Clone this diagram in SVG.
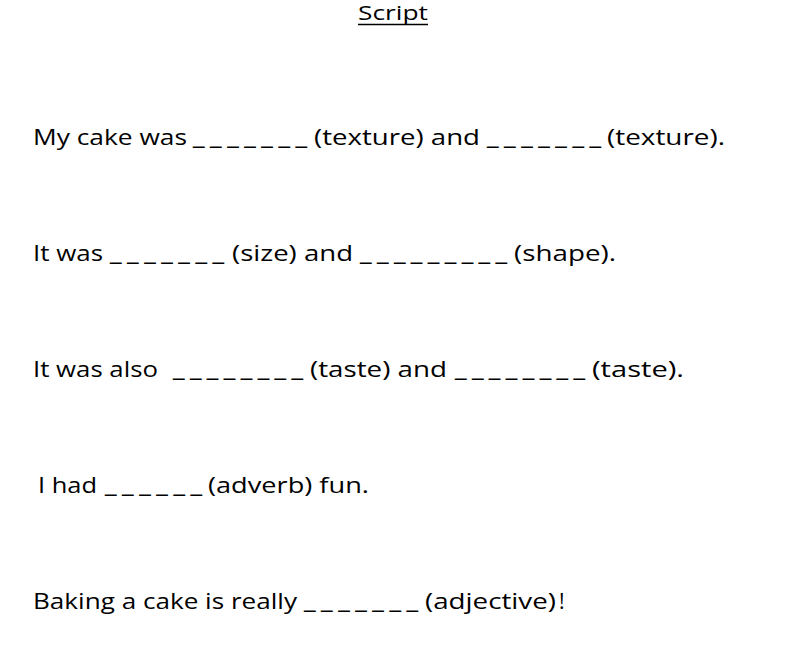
<svg xmlns="http://www.w3.org/2000/svg" width="791" height="655" viewBox="0 0 791 655">
<style>
text{font-family:"Open Sans","Liberation Sans",sans-serif;font-size:21px;fill:#000}
.t{font-size:20px}
.u{font-family:"DejaVu Sans",sans-serif;font-size:23px}
</style>
<rect width="791" height="655" fill="#fff"/>
<g id="title">
<text class="t" x="358" y="20" textLength="70" lengthAdjust="spacingAndGlyphs">Script</text>
<line x1="358" y1="24.5" x2="428" y2="24.5" stroke="#000" stroke-width="1.5"/>
</g>
<g id="line1">
<text x="33" y="145" textLength="154" lengthAdjust="spacingAndGlyphs">My cake was</text>
<text class="u" x="193" y="143" textLength="114" lengthAdjust="spacing">_______</text>
<text x="314" y="145" textLength="166" lengthAdjust="spacingAndGlyphs">(texture) and</text>
<text class="u" x="487" y="143" textLength="114" lengthAdjust="spacing">_______</text>
<text x="607" y="145" textLength="118" lengthAdjust="spacingAndGlyphs">(texture).</text>
</g>
<g id="line2">
<text x="33" y="261" textLength="70" lengthAdjust="spacingAndGlyphs">It was</text>
<text class="u" x="110" y="259" textLength="114" lengthAdjust="spacing">_______</text>
<text x="232" y="261" textLength="121" lengthAdjust="spacingAndGlyphs">(size) and</text>
<text class="u" x="360" y="259" textLength="147" lengthAdjust="spacing">_________</text>
<text x="514" y="261" textLength="102" lengthAdjust="spacingAndGlyphs">(shape).</text>
</g>
<g id="line3">
<text x="33" y="377" textLength="125" lengthAdjust="spacingAndGlyphs">It was also</text>
<text class="u" x="173" y="375" textLength="130" lengthAdjust="spacing">________</text>
<text x="310" y="377" textLength="137" lengthAdjust="spacingAndGlyphs">(taste) and</text>
<text class="u" x="455" y="375" textLength="130" lengthAdjust="spacing">________</text>
<text x="592" y="377" textLength="92" lengthAdjust="spacingAndGlyphs">(taste).</text>
</g>
<g id="line4">
<text x="38" y="493" textLength="59" lengthAdjust="spacingAndGlyphs">I had</text>
<text class="u" x="105" y="491" textLength="97" lengthAdjust="spacing">______</text>
<text x="208" y="493" textLength="161" lengthAdjust="spacingAndGlyphs">(adverb) fun.</text>
</g>
<g id="line5">
<text x="33" y="609" textLength="264" lengthAdjust="spacingAndGlyphs">Baking a cake is really</text>
<text class="u" x="304" y="607" textLength="114" lengthAdjust="spacing">_______</text>
<text x="425" y="609" textLength="131" lengthAdjust="spacingAndGlyphs">(adjective)</text>
<text x="559" y="609">!</text>
</g>
</svg>
